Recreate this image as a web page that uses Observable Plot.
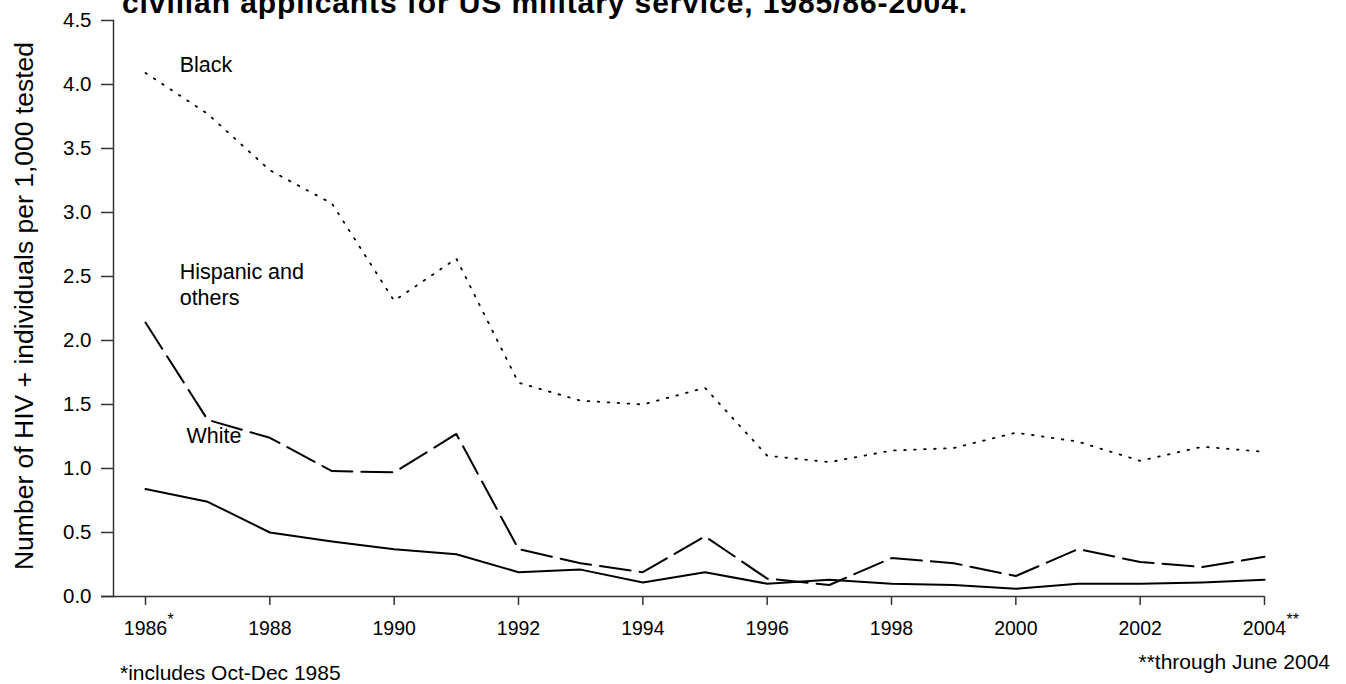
<!DOCTYPE html>
<html>
<head>
<meta charset="utf-8">
<script src="https://cdn.jsdelivr.net/npm/d3@7"></script>
<script src="https://cdn.jsdelivr.net/npm/@observablehq/plot@0.6"></script>
<style>
  html, body { margin: 0; padding: 0; background: #fff; }
  #chart svg { display: block; }
</style>
</head>
<body>
<div id="chart"></div>
<script>
// HIV prevalence among civilian applicants, per 1,000 tested
const years = d3.range(1986, 2005);
const black    = [4.09, 3.77, 3.33, 3.07, 2.31, 2.64, 1.67, 1.53, 1.50, 1.63, 1.10, 1.05, 1.14, 1.16, 1.28, 1.21, 1.06, 1.17, 1.13];
const hispanic = [2.14, 1.38, 1.24, 0.98, 0.97, 1.27, 0.37, 0.26, 0.19, 0.47, 0.14, 0.09, 0.30, 0.26, 0.16, 0.37, 0.27, 0.23, 0.31];
const white    = [0.84, 0.74, 0.50, 0.43, 0.37, 0.33, 0.19, 0.21, 0.11, 0.19, 0.10, 0.13, 0.10, 0.09, 0.06, 0.10, 0.10, 0.11, 0.13];

const xTicks = d3.range(1986, 2005, 2);
const yTicks = d3.range(0, 4.51, 0.5);

// series labels placed in data units next to the lines
const seriesLabels = [
  {x: 1986.55, y: 4.094, text: "Black"},
  {x: 1986.55, y: 2.281, text: "Hispanic and\nothers"},
  {x: 1986.66, y: 1.203, text: "White"}
];
// footnote markers appended to the first and last year labels
const tickNotes = [
  {x: 1986, text: "*"},
  {x: 2004, text: "**"}
];

const toRows = (vals) => years.map((year, i) => ({year, value: vals[i]}));
const blackRows = toRows(black);
const hispanicRows = toRows(hispanic);
const whiteRows = toRows(white);

const W = 1346, H = 684;
const font = "'Liberation Sans', Arial, Helvetica, sans-serif";
const axisColor = "#333";

const chart = Plot.plot({
  width: W,
  height: H,
  marginLeft: 113,
  marginRight: 82,
  marginTop: 20,
  marginBottom: 88,
  style: {fontFamily: font, fontSize: "19px", color: "#000", background: "#fff"},
  x: {type: "linear", domain: [1986, 2004], range: [145, 1264]},
  y: {domain: [0, 4.5], range: [596, 20]},
  marks: [
    Plot.axisX({ticks: xTicks, tickFormat: d => String(d), tickSize: 9, tickPadding: 16,
                stroke: axisColor, strokeWidth: 1.5, fill: "#000", label: null}),
    Plot.axisY({ticks: yTicks, tickFormat: d3.format(".1f"), tickSize: 12, tickPadding: 10,
                stroke: axisColor, strokeWidth: 1.5, fill: "#000", label: null}),
    Plot.frame({anchor: "left", stroke: axisColor, strokeWidth: 1.5}),
    Plot.ruleY([0], {stroke: axisColor, strokeWidth: 1.5, insetLeft: -12}),
    Plot.line(blackRows, {x: "year", y: "value", stroke: "#000", strokeWidth: 1.8,
                          strokeDasharray: "1.6,8.4"}),
    Plot.line(hispanicRows, {x: "year", y: "value", stroke: "#000", strokeWidth: 2,
                             strokeDasharray: "31,9"}),
    Plot.line(whiteRows, {x: "year", y: "value", stroke: "#000", strokeWidth: 2}),
    Plot.text(seriesLabels, {x: "x", y: "y", text: "text", textAnchor: "start",
                             lineAnchor: "bottom", lineHeight: 1.17, fontSize: 21.5, fill: "#000"}),
    Plot.text(tickNotes, {x: "x", text: "text", frameAnchor: "bottom", dx: 22, dy: 28,
                          textAnchor: "start", fontSize: 16, fill: "#000"})
  ]
});

const svg = d3.select(chart);

// tick label sizes: y labels slightly larger than the year labels
const yearText = new Set(xTicks.map(String));
const rateText = new Set(yTicks.map(d3.format(".1f")));
svg.selectAll("text").each(function () {
  const t = this.textContent;
  if (this.closest("g[aria-label='text']")) return;
  if (yearText.has(t)) d3.select(this).style("font-size", "19.5px");
  else if (rateText.has(t)) d3.select(this).style("font-size", "20.5px");
});

// title (its first line sits above the visible area)
svg.append("text")
  .attr("x", 122).attr("y", 13)
  .attr("text-anchor", "start")
  .attr("font-family", font).attr("font-weight", "bold")
  .attr("font-size", 30).attr("letter-spacing", 0.9)
  .attr("fill", "#000")
  .text("civilian applicants for US military service, 1985/86-2004.");

// y-axis title
svg.append("text")
  .attr("transform", "translate(33,306) rotate(-90)")
  .attr("text-anchor", "middle")
  .attr("font-family", font).attr("font-size", 26.5).attr("fill", "#000")
  .text("Number of HIV + individuals per 1,000 tested");

// footnotes
svg.append("text")
  .attr("x", 120).attr("y", 680)
  .attr("text-anchor", "start")
  .attr("font-family", font).attr("font-size", 21).attr("fill", "#000")
  .text("*includes Oct-Dec 1985");
svg.append("text")
  .attr("x", 1330).attr("y", 669).attr("text-anchor", "end")
  .attr("font-family", font).attr("font-size", 21).attr("fill", "#000")
  .text("**through June 2004");

document.getElementById("chart").appendChild(chart);
</script>
</body>
</html>
